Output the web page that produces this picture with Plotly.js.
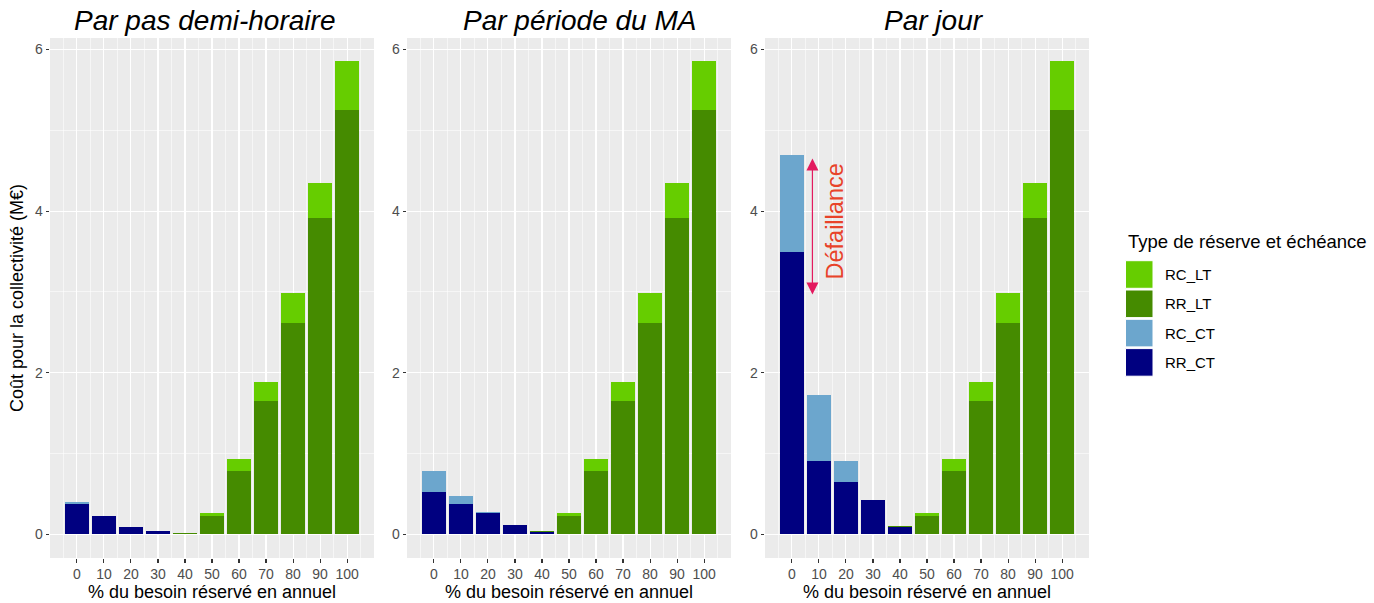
<!DOCTYPE html>
<html>
<head>
<meta charset="utf-8">
<script src="https://cdn.plot.ly/plotly-3.0.1.min.js"></script>
<style>html,body{margin:0;padding:0;background:#fff;} #chart{width:1374px;height:603px;}</style>
</head>
<body>
<div id="chart"></div>
<script>
// ---- Data ----
const categories = [0, 10, 20, 30, 40, 50, 60, 70, 80, 90, 100];
const xTickLabels = ['0','10','20','30','40','50','60','70','80','90','100'];
const yTickVals = [0, 2, 4, 6];
const yTickLabels = ['0','2','4','6'];
const panelTitles = ['Par pas demi-horaire', 'Par période du MA', 'Par jour'];
const seriesNames = ['RR_CT', 'RC_CT', 'RR_LT', 'RC_LT'];   // stacking order bottom -> top
const legendOrder = ['RC_LT', 'RR_LT', 'RC_CT', 'RR_CT'];
const colors = {RC_LT: '#66CD00', RR_LT: '#458B00', RC_CT: '#6CA6CD', RR_CT: '#000080'};

// Panel 1 : Par pas demi-horaire
const p1_RR_CT = [0.38, 0.23, 0.095, 0.037, 0.004, 0, 0, 0, 0, 0, 0];
const p1_RC_CT = [0.02, 0, 0, 0, 0, 0, 0, 0, 0, 0, 0];
const p1_RR_LT = [0, 0, 0, 0, 0.012, 0.23, 0.79, 1.65, 2.62, 3.92, 5.25];
const p1_RC_LT = [0, 0, 0, 0, 0, 0.03, 0.14, 0.24, 0.37, 0.43, 0.61];
// Panel 2 : Par période du MA
const p2_RR_CT = [0.52, 0.37, 0.26, 0.12, 0.03, 0, 0, 0, 0, 0, 0];
const p2_RC_CT = [0.26, 0.11, 0.02, 0, 0, 0, 0, 0, 0, 0, 0];
const p2_RR_LT = [0, 0, 0, 0, 0.01, 0.23, 0.79, 1.65, 2.62, 3.92, 5.25];
const p2_RC_LT = [0, 0, 0, 0, 0, 0.03, 0.14, 0.24, 0.37, 0.43, 0.61];
// Panel 3 : Par jour
const p3_RR_CT = [3.50, 0.91, 0.65, 0.42, 0.087, 0, 0, 0, 0, 0, 0];
const p3_RC_CT = [1.19, 0.81, 0.26, 0, 0, 0, 0, 0, 0, 0, 0];
const p3_RR_LT = [0, 0, 0, 0, 0.012, 0.23, 0.79, 1.65, 2.62, 3.92, 5.25];
const p3_RC_LT = [0, 0, 0, 0, 0, 0.03, 0.14, 0.24, 0.37, 0.43, 0.61];

// Annotation "Défaillance" arrow (values on panel 3 axes)
const arrowX = 7.6, arrowFrom = 2.95, arrowTo = 4.65;
const labelX = 15.9, labelY = 3.87;

const panels = [
  {RR_CT: p1_RR_CT, RC_CT: p1_RC_CT, RR_LT: p1_RR_LT, RC_LT: p1_RC_LT},
  {RR_CT: p2_RR_CT, RC_CT: p2_RC_CT, RR_LT: p2_RR_LT, RC_LT: p2_RC_LT},
  {RR_CT: p3_RR_CT, RC_CT: p3_RC_CT, RR_LT: p3_RR_LT, RC_LT: p3_RC_LT}
];

// ---- Layout geometry (pixels) ----
const W = 1374, H = 603;
const panelPx = [[50, 374], [407, 731], [765, 1089]];
const panelTop = 38, panelBottom = 558;
const titleCenters = [204.7, 579.2, 934];
const FONT = 'Liberation Sans, Arial, Helvetica, sans-serif';

const traces = [];
panels.forEach((p, i) => {
  const sfx = i === 0 ? '' : String(i + 1);
  seriesNames.forEach(name => {
    traces.push({
      type: 'bar', name: name, x: categories, y: p[name], width: 9,
      xaxis: 'x' + sfx, yaxis: 'y' + sfx,
      marker: {color: colors[name], line: {width: 0}},
      showlegend: false, hoverinfo: 'x+y+name'
    });
  });
});

const layout = {
  width: W, height: H,
  margin: {l: 0, r: 0, t: 0, b: 0},
  paper_bgcolor: '#FFFFFF', plot_bgcolor: '#EBEBEB',
  barmode: 'stack', bargap: 0,
  font: {family: FONT, color: '#000000'},
  showlegend: false,
  annotations: [], shapes: []
};

const yDomain = [1 - panelBottom / H, 1 - panelTop / H];
panelPx.forEach((px, i) => {
  const sfx = i === 0 ? '' : String(i + 1);
  layout['xaxis' + sfx] = {
    domain: [px[0] / W, px[1] / W], anchor: 'y' + sfx,
    range: [-9.95, 109.95], tickmode: 'array', tickvals: categories, ticktext: xTickLabels,
    ticks: 'outside', ticklen: 3.5, tickwidth: 1.1, tickcolor: '#333333',
    tickfont: {size: 14, color: '#4D4D4D', family: FONT},
    showgrid: true, gridcolor: '#FFFFFF', gridwidth: 1.1, zeroline: false, showline: false,
    minor: {tickmode: 'array', tickvals: [-5, 5, 15, 25, 35, 45, 55, 65, 75, 85, 95, 105],
            showgrid: true, gridcolor: '#FFFFFF', gridwidth: 0.55, ticks: ''},
    title: {text: '% du besoin réservé en annuel', font: {size: 18, color: '#000000', family: FONT}, standoff: 2},
    fixedrange: true
  };
  layout['yaxis' + sfx] = {
    domain: yDomain, anchor: 'x' + sfx,
    range: [-0.2925, 6.1425], tickmode: 'array', tickvals: yTickVals, ticktext: yTickLabels,
    ticks: 'outside', ticklen: 3.5, tickwidth: 1.1, tickcolor: '#333333',
    tickfont: {size: 14, color: '#4D4D4D', family: FONT},
    showgrid: true, gridcolor: '#FFFFFF', gridwidth: 1.1, zeroline: false, showline: false,
    minor: {tickmode: 'array', tickvals: [1, 3, 5], showgrid: true, gridcolor: '#FFFFFF', gridwidth: 0.55, ticks: ''},
    fixedrange: true
  };
  layout.annotations.push({
    xref: 'paper', yref: 'paper', x: titleCenters[i] / W, y: 1 - 21 / H,
    xanchor: 'center', yanchor: 'middle', showarrow: false,
    text: '<i>' + panelTitles[i] + '</i>',
    font: {size: 28, color: '#000000', family: FONT}
  });
});
layout.yaxis.title = {text: 'Coût pour la collectivité (M€)', font: {size: 18, color: '#000000', family: FONT}, standoff: 6};

// Défaillance arrow + label
layout.annotations.push({
  xref: 'x3', yref: 'y3', axref: 'x3', ayref: 'y3',
  x: arrowX, y: arrowTo, ax: arrowX, ay: arrowFrom, text: '',
  showarrow: true, arrowside: 'end+start', arrowhead: 2, startarrowhead: 2,
  arrowsize: 2, startarrowsize: 2, arrowwidth: 1.2, arrowcolor: '#E31A5F'
});
layout.annotations.push({
  xref: 'x3', yref: 'y3', x: labelX, y: labelY, text: 'Défaillance', textangle: -90,
  showarrow: false, font: {size: 23.5, color: '#E8432A', family: FONT}
});

// Custom legend (ggplot style)
layout.annotations.push({
  xref: 'paper', yref: 'paper', x: 1126 / W, y: 1 - 242 / H, xanchor: 'left', yanchor: 'middle',
  text: 'Type de réserve et échéance', showarrow: false, font: {size: 18.5, color: '#000000', family: FONT}
});
legendOrder.forEach((name, k) => {
  const top = 260.7 + k * 29.3, bot = top + 27.6;
  layout.shapes.push({
    type: 'rect', xref: 'paper', yref: 'paper',
    x0: 1125.5 / W, x1: 1153 / W, y0: 1 - bot / H, y1: 1 - top / H,
    fillcolor: colors[name], line: {color: '#FFFFFF', width: 1}
  });
  layout.annotations.push({
    xref: 'paper', yref: 'paper', x: 1163 / W, y: 1 - (top + 13.8) / H,
    xanchor: 'left', yanchor: 'middle', text: name, showarrow: false,
    font: {size: 15, color: '#000000', family: FONT}
  });
});

Plotly.newPlot('chart', traces, layout, {displayModeBar: false, staticPlot: true});
</script>
</body>
</html>
